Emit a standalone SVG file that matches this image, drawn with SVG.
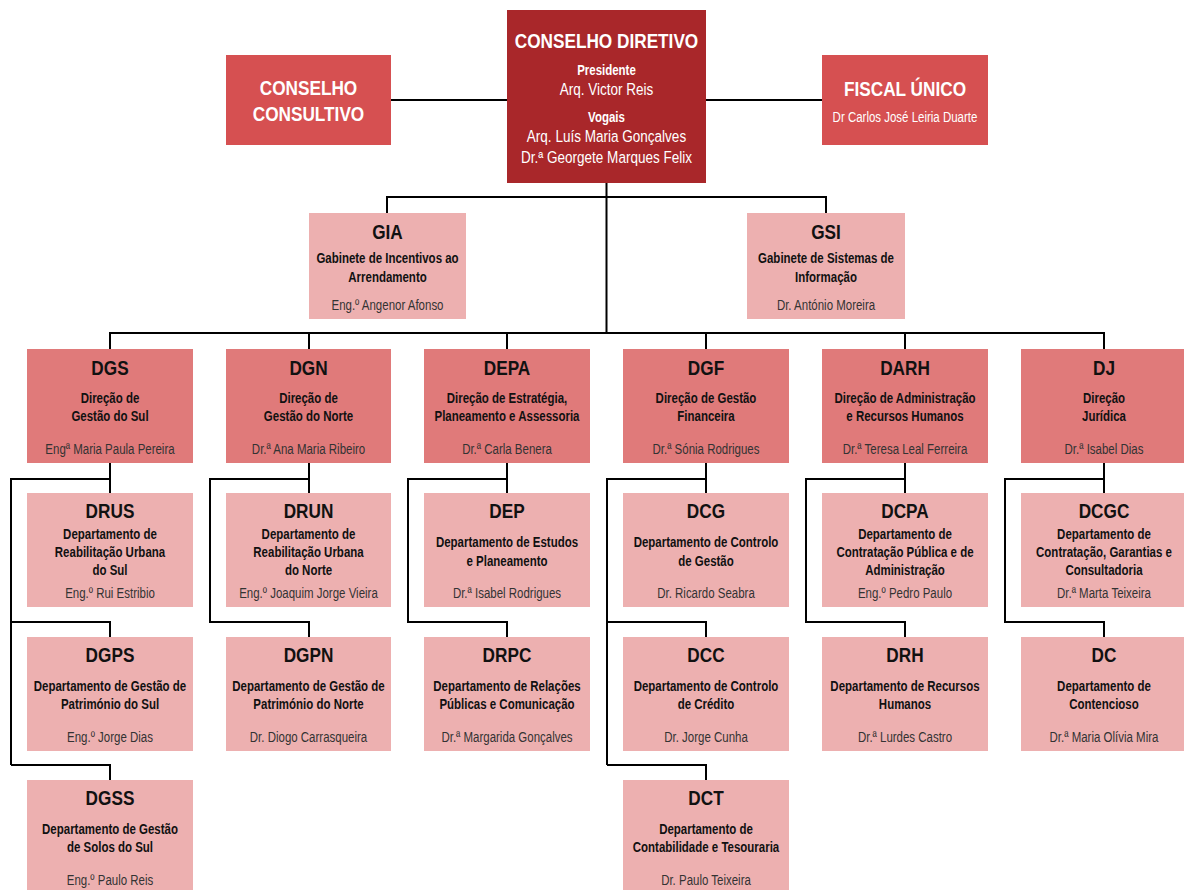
<svg xmlns="http://www.w3.org/2000/svg" width="1184" height="890" viewBox="0 0 1184 890">
<style>
text{font-family:"Liberation Sans",Arial,sans-serif;text-anchor:middle}
.cd{fill:#a9272a}
.cc{fill:#d65051}
.dir{fill:#e07a7a}
.sub{fill:#edb0b0}
.wt{fill:#fff;font-weight:bold;font-size:21px}
.wb{fill:#fff;font-weight:bold;font-size:14px}
.wn{fill:#fff;font-size:16.5px}
.ws{fill:#fff;font-size:14px}
.t{fill:#111;font-weight:bold;font-size:21px}
.d{fill:#111;font-weight:bold;font-size:14px}
.n{fill:#333;font-size:14px}
#connectors path{fill:none;stroke:#000;stroke-width:2}
</style>
<g id="connectors">
<path d="M391 100H507M706 100H822M606.5 183V333M387 213V197H826V213M110 349V333H1104V349M309 333V349M507 333V349M706 333V349M905 333V349"/>
<path d="M110 463V479H11V765M11 622H110V637M11 765H110V780"/>
<path d="M309 463V479H210V622H309V637"/>
<path d="M507 463V479H408V622H507V637"/>
<path d="M706 463V479H607V765M607 622H706V637M607 765H706V780"/>
<path d="M905 463V479H806V622H905V637"/>
<path d="M1104 463V479H1005V622H1104V637"/>
<path d="M110 479V493M309 479V493M507 479V493M706 479V493M905 479V493M1104 479V493"/>
</g>
<g id="conselho-diretivo">
<rect class="cd" x="507" y="10" width="199" height="173"/>
<g transform="matrix(.82 0 0 1 109.17 0)">
<text class="wt" x="606.5" y="48">CONSELHO DIRETIVO</text>
<text class="wb" x="606.5" y="75">Presidente</text>
<text class="wn" x="606.5" y="95">Arq. Victor Reis</text>
<text class="wb" x="606.5" y="122">Vogais</text>
<text class="wn" x="606.5" y="142">Arq. Luís Maria Gonçalves</text>
<text class="wn" x="606.5" y="163">Dr.ª Georgete Marques Felix</text>
</g>
</g>
<g id="conselho-consultivo">
<rect class="cc" x="226" y="55" width="165" height="90"/>
<g transform="matrix(.82 0 0 1 55.53 0)">
<text class="wt" x="308.5" y="95">CONSELHO</text>
<text class="wt" x="308.5" y="121">CONSULTIVO</text>
</g>
</g>
<g id="fiscal-unico">
<rect class="cc" x="822" y="55" width="166" height="90"/>
<g transform="matrix(.82 0 0 1 162.9 0)">
<text class="wt" x="905" y="96">FISCAL ÚNICO</text>
<text class="ws" x="905" y="122">Dr Carlos José Leiria Duarte</text>
</g>
</g>
<g id="gia">
<rect class="sub" x="309" y="213" width="157" height="106"/>
<g transform="matrix(.82 0 0 1 69.75 0)">
<text class="t" x="387.5" y="239">GIA</text>
<text class="d" x="387.5" y="263">Gabinete de Incentivos ao</text>
<text class="d" x="387.5" y="282">Arrendamento</text>
<text class="n" x="387.5" y="310">Eng.º Angenor Afonso</text>
</g>
</g>
<g id="gsi">
<rect class="sub" x="747" y="213" width="158" height="106"/>
<g transform="matrix(.82 0 0 1 148.68 0)">
<text class="t" x="826" y="239">GSI</text>
<text class="d" x="826" y="263">Gabinete de Sistemas de</text>
<text class="d" x="826" y="282">Informação</text>
<text class="n" x="826" y="310">Dr. António Moreira</text>
</g>
</g>
<g id="dgs">
<rect class="dir" x="27" y="349" width="166" height="114"/>
<g transform="matrix(.82 0 0 1 19.8 0)">
<text class="t" x="110" y="375">DGS</text>
<text class="d" x="110" y="403">Direção de</text>
<text class="d" x="110" y="421">Gestão do Sul</text>
<text class="n" x="110" y="454">Engª Maria Paula Pereira</text>
</g>
</g>
<g id="dgn">
<rect class="dir" x="226" y="349" width="165" height="114"/>
<g transform="matrix(.82 0 0 1 55.53 0)">
<text class="t" x="308.5" y="375">DGN</text>
<text class="d" x="308.5" y="403">Direção de</text>
<text class="d" x="308.5" y="421">Gestão do Norte</text>
<text class="n" x="308.5" y="454">Dr.ª Ana Maria Ribeiro</text>
</g>
</g>
<g id="depa">
<rect class="dir" x="424" y="349" width="166" height="114"/>
<g transform="matrix(.82 0 0 1 91.26 0)">
<text class="t" x="507" y="375">DEPA</text>
<text class="d" x="507" y="403">Direção de Estratégia,</text>
<text class="d" x="507" y="421">Planeamento e Assessoria</text>
<text class="n" x="507" y="454">Dr.ª Carla Benera</text>
</g>
</g>
<g id="dgf">
<rect class="dir" x="623" y="349" width="166" height="114"/>
<g transform="matrix(.82 0 0 1 127.08 0)">
<text class="t" x="706" y="375">DGF</text>
<text class="d" x="706" y="403">Direção de Gestão</text>
<text class="d" x="706" y="421">Financeira</text>
<text class="n" x="706" y="454">Dr.ª Sónia Rodrigues</text>
</g>
</g>
<g id="darh">
<rect class="dir" x="822" y="349" width="166" height="114"/>
<g transform="matrix(.82 0 0 1 162.9 0)">
<text class="t" x="905" y="375">DARH</text>
<text class="d" x="905" y="403">Direção de Administração</text>
<text class="d" x="905" y="421">e Recursos Humanos</text>
<text class="n" x="905" y="454">Dr.ª Teresa Leal Ferreira</text>
</g>
</g>
<g id="dj">
<rect class="dir" x="1021" y="349" width="166" height="114"/>
<g transform="matrix(.82 0 0 1 198.72 0)">
<text class="t" x="1104" y="375">DJ</text>
<text class="d" x="1104" y="403">Direção</text>
<text class="d" x="1104" y="421">Jurídica</text>
<text class="n" x="1104" y="454">Dr.ª Isabel Dias</text>
</g>
</g>
<g id="drus">
<rect class="sub" x="27" y="493" width="166" height="114"/>
<g transform="matrix(.82 0 0 1 19.8 0)">
<text class="t" x="110" y="518">DRUS</text>
<text class="d" x="110" y="539">Departamento de</text>
<text class="d" x="110" y="557">Reabilitação Urbana</text>
<text class="d" x="110" y="575">do Sul</text>
<text class="n" x="110" y="598">Eng.º Rui Estribio</text>
</g>
</g>
<g id="drun">
<rect class="sub" x="226" y="493" width="165" height="114"/>
<g transform="matrix(.82 0 0 1 55.53 0)">
<text class="t" x="308.5" y="518">DRUN</text>
<text class="d" x="308.5" y="539">Departamento de</text>
<text class="d" x="308.5" y="557">Reabilitação Urbana</text>
<text class="d" x="308.5" y="575">do Norte</text>
<text class="n" x="308.5" y="598">Eng.º Joaquim Jorge Vieira</text>
</g>
</g>
<g id="dep">
<rect class="sub" x="424" y="493" width="166" height="114"/>
<g transform="matrix(.82 0 0 1 91.26 0)">
<text class="t" x="507" y="518">DEP</text>
<text class="d" x="507" y="547">Departamento de Estudos</text>
<text class="d" x="507" y="566">e Planeamento</text>
<text class="n" x="507" y="598">Dr.ª Isabel Rodrigues</text>
</g>
</g>
<g id="dcg">
<rect class="sub" x="623" y="493" width="166" height="114"/>
<g transform="matrix(.82 0 0 1 127.08 0)">
<text class="t" x="706" y="518">DCG</text>
<text class="d" x="706" y="547">Departamento de Controlo</text>
<text class="d" x="706" y="566">de Gestão</text>
<text class="n" x="706" y="598">Dr. Ricardo Seabra</text>
</g>
</g>
<g id="dcpa">
<rect class="sub" x="822" y="493" width="166" height="114"/>
<g transform="matrix(.82 0 0 1 162.9 0)">
<text class="t" x="905" y="518">DCPA</text>
<text class="d" x="905" y="539">Departamento de</text>
<text class="d" x="905" y="557">Contratação Pública e de</text>
<text class="d" x="905" y="575">Administração</text>
<text class="n" x="905" y="598">Eng.º Pedro Paulo</text>
</g>
</g>
<g id="dcgc">
<rect class="sub" x="1021" y="493" width="166" height="114"/>
<g transform="matrix(.82 0 0 1 198.72 0)">
<text class="t" x="1104" y="518">DCGC</text>
<text class="d" x="1104" y="539">Departamento de</text>
<text class="d" x="1104" y="557">Contratação, Garantias e</text>
<text class="d" x="1104" y="575">Consultadoria</text>
<text class="n" x="1104" y="598">Dr.ª Marta Teixeira</text>
</g>
</g>
<g id="dgps">
<rect class="sub" x="27" y="637" width="166" height="114"/>
<g transform="matrix(.82 0 0 1 19.8 0)">
<text class="t" x="110" y="662">DGPS</text>
<text class="d" x="110" y="691">Departamento de Gestão de</text>
<text class="d" x="110" y="709">Património do Sul</text>
<text class="n" x="110" y="742">Eng.º Jorge Dias</text>
</g>
</g>
<g id="dgpn">
<rect class="sub" x="226" y="637" width="165" height="114"/>
<g transform="matrix(.82 0 0 1 55.53 0)">
<text class="t" x="308.5" y="662">DGPN</text>
<text class="d" x="308.5" y="691">Departamento de Gestão de</text>
<text class="d" x="308.5" y="709">Património do Norte</text>
<text class="n" x="308.5" y="742">Dr. Diogo Carrasqueira</text>
</g>
</g>
<g id="drpc">
<rect class="sub" x="424" y="637" width="166" height="114"/>
<g transform="matrix(.82 0 0 1 91.26 0)">
<text class="t" x="507" y="662">DRPC</text>
<text class="d" x="507" y="691">Departamento de Relações</text>
<text class="d" x="507" y="709">Públicas e Comunicação</text>
<text class="n" x="507" y="742">Dr.ª Margarida Gonçalves</text>
</g>
</g>
<g id="dcc">
<rect class="sub" x="623" y="637" width="166" height="114"/>
<g transform="matrix(.82 0 0 1 127.08 0)">
<text class="t" x="706" y="662">DCC</text>
<text class="d" x="706" y="691">Departamento de Controlo</text>
<text class="d" x="706" y="709">de Crédito</text>
<text class="n" x="706" y="742">Dr. Jorge Cunha</text>
</g>
</g>
<g id="drh">
<rect class="sub" x="822" y="637" width="166" height="114"/>
<g transform="matrix(.82 0 0 1 162.9 0)">
<text class="t" x="905" y="662">DRH</text>
<text class="d" x="905" y="691">Departamento de Recursos</text>
<text class="d" x="905" y="709">Humanos</text>
<text class="n" x="905" y="742">Dr.ª Lurdes Castro</text>
</g>
</g>
<g id="dc">
<rect class="sub" x="1021" y="637" width="166" height="114"/>
<g transform="matrix(.82 0 0 1 198.72 0)">
<text class="t" x="1104" y="662">DC</text>
<text class="d" x="1104" y="691">Departamento de</text>
<text class="d" x="1104" y="709">Contencioso</text>
<text class="n" x="1104" y="742">Dr.ª Maria Olívia Mira</text>
</g>
</g>
<g id="dgss">
<rect class="sub" x="27" y="780" width="166" height="110"/>
<g transform="matrix(.82 0 0 1 19.8 0)">
<text class="t" x="110" y="805">DGSS</text>
<text class="d" x="110" y="834">Departamento de Gestão</text>
<text class="d" x="110" y="852">de Solos do Sul</text>
<text class="n" x="110" y="885">Eng.º Paulo Reis</text>
</g>
</g>
<g id="dct">
<rect class="sub" x="623" y="780" width="166" height="110"/>
<g transform="matrix(.82 0 0 1 127.08 0)">
<text class="t" x="706" y="805">DCT</text>
<text class="d" x="706" y="834">Departamento de</text>
<text class="d" x="706" y="852">Contabilidade e Tesouraria</text>
<text class="n" x="706" y="885">Dr. Paulo Teixeira</text>
</g>
</g>
</svg>
